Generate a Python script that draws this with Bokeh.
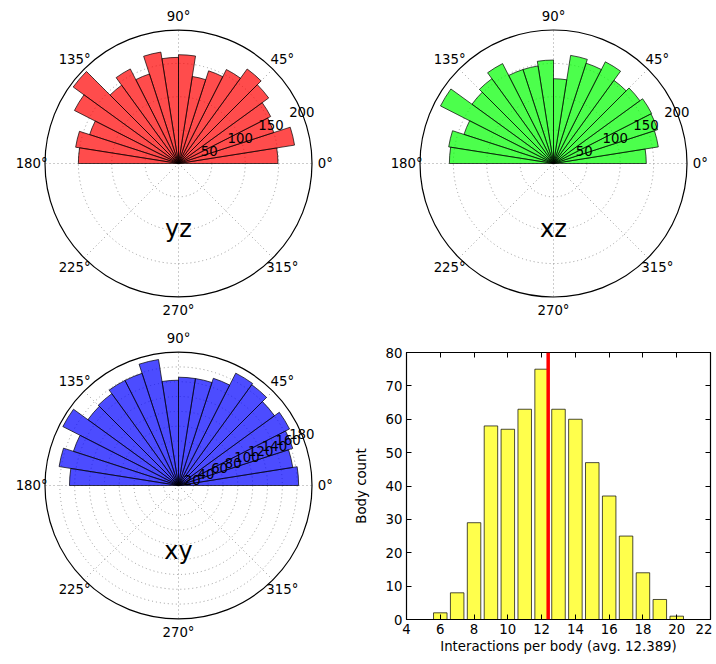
import math
from bokeh.plotting import figure
from bokeh.layouts import column, row
from bokeh.models import Range1d, LinearAxis, Span, FixedTicker
from bokeh.embed import file_html
from bokeh.resources import INLINE
from bokeh.core.properties import value

# ---------------- data ----------------
bin_edges_deg = [0, 9, 18, 27, 36, 45, 54, 63, 72, 81, 90, 99, 108, 117, 126, 135, 144, 153, 162, 171, 180]
yz_counts = [149, 176, 150, 155, 167, 175, 158, 146, 132, 163, 159, 169, 141, 159, 145, 195, 175, 140, 156, 150]
xz_counts = [139, 159, 164, 165, 160, 154, 171, 158, 164, 127, 155, 148, 148, 168, 157, 151, 190, 141, 159, 156]
xy_counts = [162, 156, 162, 168, 160, 168, 170, 152, 146, 146, 142, 172, 159, 159, 153, 151, 175, 149, 163, 147]
yz_rticks = [50, 100, 150, 200]
xz_rticks = [50, 100, 150, 200]
xy_rticks = [20, 40, 60, 80, 100, 120, 140, 160, 180]
angle_ticks = [0, 45, 90, 135, 180, 225, 270, 315]
angle_labels = ["0°", "45°", "90°", "135°", "180°", "225°", "270°", "315°"]

hist_x = [6, 7, 8, 9, 10, 11, 12, 13, 14, 15, 16, 17, 18, 19, 20]
hist_counts = [2, 8, 29, 58, 57, 63, 75, 63, 60, 47, 37, 25, 14, 6, 1]
hist_mean = 12.389
x_ticks = [4, 6, 8, 10, 12, 14, 16, 18, 20, 22]
y_ticks = [0, 10, 20, 30, 40, 50, 60, 70, 80]

FONT = "DejaVu Sans"
FS = "13.3px"
R_PX = 133.5


def polar_panel(counts, color, rticks, name, width, height, cx, cy):
    rmax = rticks[-1]
    k = R_PX / rmax
    p = figure(width=width, height=height,
               x_range=Range1d(-cx / k, (width - cx) / k),
               y_range=Range1d(-(height - cy) / k, cy / k),
               x_axis_type=None, y_axis_type=None,
               output_backend="svg", toolbar_location=None, min_border=0)
    p.grid.visible = False
    p.outline_line_color = None
    p.background_fill_color = "white"
    p.border_fill_color = "white"
    # angular grid lines
    x1 = [rmax * math.cos(math.radians(a)) for a in angle_ticks]
    y1 = [rmax * math.sin(math.radians(a)) for a in angle_ticks]
    p.segment(x0=[0] * len(x1), y0=[0] * len(y1), x1=x1, y1=y1,
              line_color="#999999", line_dash="1 3", line_width=1)
    # radial grid circles
    inner = rticks[:-1]
    p.circle(x=[0] * len(inner), y=[0] * len(inner), radius=inner,
             fill_color=None, line_color="#999999", line_dash="1 3", line_width=1)
    # bars
    p.wedge(x=[0] * len(counts), y=[0] * len(counts), radius=counts,
            start_angle=bin_edges_deg[:-1], end_angle=bin_edges_deg[1:],
            start_angle_units="deg", end_angle_units="deg",
            fill_color=color, fill_alpha=0.7,
            line_color="black", line_alpha=0.7, line_width=1)
    # outer circle
    p.circle(x=[0], y=[0], radius=rmax, fill_color=None,
             line_color="black", line_width=1.2)
    # radial tick labels
    ra = math.radians(22.5)
    p.text(x=[r * math.cos(ra) for r in rticks], y=[r * math.sin(ra) for r in rticks],
           text=[str(r) for r in rticks], text_align="center", text_baseline="middle",
           text_font=value(FONT), text_font_size=FS, text_color="black")
    # angle labels
    rl = 1.1 * rmax
    p.text(x=[rl * math.cos(math.radians(a)) for a in angle_ticks],
           y=[rl * math.sin(math.radians(a)) for a in angle_ticks],
           text=angle_labels, text_align="center", text_baseline="middle",
           text_font=value(FONT), text_font_size=FS, text_color="black")
    # panel name
    p.text(x=[0], y=[-0.487 * rmax], text=[name], text_align="center",
           text_baseline="middle", text_font=value(FONT), text_font_size="24px",
           text_color="black")
    return p


LW, RW, H1, H2 = 350, 362, 332, 324
p_yz = polar_panel(yz_counts, "red", yz_rticks, "yz", LW, H1, 178, 163)
p_xz = polar_panel(xz_counts, "lime", xz_rticks, "xz", RW, H1, 203, 163)
p_xy = polar_panel(xy_counts, "blue", xy_rticks, "xy", LW, H2, 178, 153)

# ---------------- histogram ----------------
ph = figure(width=RW, height=H2, x_range=Range1d(4, 22), y_range=Range1d(0, 80),
            output_backend="svg", toolbar_location=None,
            min_border_left=47, min_border_right=2,
            min_border_top=20, min_border_bottom=37)
ph.grid.visible = False
ph.outline_line_color = "black"
ph.outline_line_width = 1.2
ph.vbar(x=hist_x, top=hist_counts, width=0.8, bottom=0,
        fill_color="yellow", fill_alpha=0.7, line_color="black", line_alpha=0.7, line_width=1)
ph.add_layout(Span(location=hist_mean, dimension="height", line_color="red", line_width=3.5))

ph.xaxis.ticker = FixedTicker(ticks=x_ticks)
ph.yaxis.ticker = FixedTicker(ticks=y_ticks)
ph.xaxis.axis_label = "Interactions per body (avg. 12.389)"
ph.yaxis.axis_label = "Body count"
for ax in (ph.xaxis[0], ph.yaxis[0]):
    ax.major_tick_in = 5
    ax.major_tick_out = 0
    ax.minor_tick_line_color = None
    ax.axis_line_color = "black"
    ax.major_tick_line_color = "black"
    ax.major_label_text_font = FONT
    ax.major_label_text_font_size = FS
    ax.major_label_text_color = "black"
    ax.axis_label_text_font = FONT
    ax.axis_label_text_font_size = FS
    ax.axis_label_text_font_style = "normal"
    ax.axis_label_text_color = "black"
    ax.major_label_standoff = 4
ph.xaxis.axis_label_standoff = 2
ph.yaxis.axis_label_standoff = 14

ax_r = LinearAxis(ticker=FixedTicker(ticks=y_ticks), major_label_overrides={t: "" for t in y_ticks})
ax_t = LinearAxis(ticker=FixedTicker(ticks=x_ticks), major_label_overrides={t: "" for t in x_ticks})
for ax in (ax_r, ax_t):
    ax.major_tick_in = 5
    ax.major_tick_out = 0
    ax.minor_tick_line_color = None
    ax.axis_line_color = "black"
    ax.major_tick_line_color = "black"
    ax.major_label_standoff = 0
ph.add_layout(ax_r, "right")
ph.add_layout(ax_t, "above")

# nest each bottom panel in its own column so their frames are not aligned
layout = column(row(p_yz, p_xz, spacing=0),
                row(column(p_xy), column(ph), spacing=0),
                spacing=0)

open("out.html", "w").write(file_html(layout, INLINE))
